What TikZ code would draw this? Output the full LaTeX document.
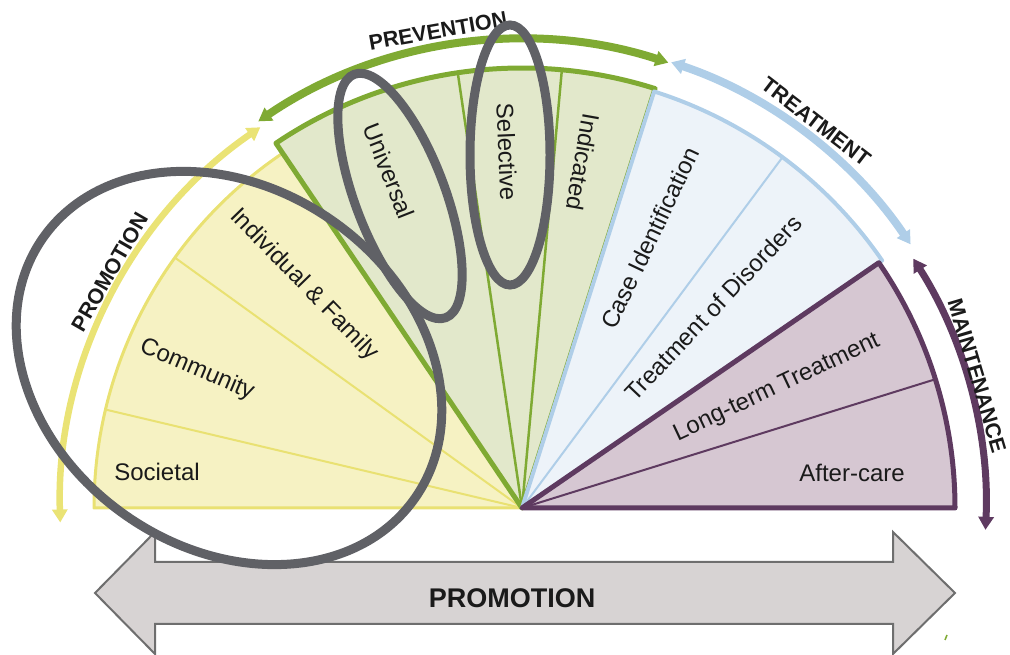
\documentclass[tikz,border=0pt]{standalone}
\usepackage{fontspec}
\setmainfont{Liberation Sans}
\usetikzlibrary{arrows.meta}
\definecolor{yfill}{HTML}{F6F2C3}
\definecolor{yline}{HTML}{E9E172}
\definecolor{yarc}{HTML}{EAE375}
\definecolor{gfill}{HTML}{E2E8CB}
\definecolor{gline}{HTML}{7FAA33}
\definecolor{bfill}{HTML}{EDF3F9}
\definecolor{bline}{HTML}{AFCEE8}
\definecolor{pfill}{HTML}{D6C7D2}
\definecolor{pline}{HTML}{5E3A60}
\definecolor{ring}{HTML}{606166}
\definecolor{afill}{HTML}{D7D3D3}
\definecolor{aline}{HTML}{6E6E6E}
\definecolor{txt}{HTML}{1A1A1A}
\begin{document}
\begin{tikzpicture}[x=1pt,y=1pt,
  lbl/.style={font=\fontsize{24}{26}\selectfont, text=txt, inner sep=0pt},
  arclbl/.style={font=\fontsize{21.5}{24}\selectfont\bfseries, text=txt, inner sep=0pt},
  ringst/.style={draw=ring, line width=9pt},
  arcarrow/.style={line width=#1, {Triangle[width=15pt,length=13pt]}-{Triangle[width=15pt,length=13pt]}}
]
\useasboundingbox (0,0) rectangle (1010,655);
\coordinate (C) at (522,147);

% yellow sector (promotion)
\draw[yline, line width=3pt, fill=yfill, line join=round] (C) -- ++(180:428) arc[start angle=180, end angle=124, radius=428] -- cycle;
\draw[yline, line width=2pt] (C) -- ++(166.7:428);
\draw[yline, line width=2pt] (C) -- ++(144.2:428);

% green sector (prevention)
\draw[gline, line width=5pt, fill=gfill, line join=round] (C) -- ++(124:440) arc[start angle=124, end angle=72.4, radius=440] -- cycle;
\draw[gline, line width=2.5pt] (C) -- ++(98.4:440);
\draw[gline, line width=2.5pt] (C) -- ++(84.8:440);

% blue sector (treatment)
\draw[bline, line width=4pt, fill=bfill, line join=round] (C) -- ++(72.4:437) arc[start angle=72.4, end angle=34.5, radius=437] -- cycle;
\draw[bline, line width=2pt] (C) -- ++(53.4:437);

% purple sector (maintenance)
\draw[pline, line width=5pt, fill=pfill, line join=round] (C) -- ++(34.5:433) arc[start angle=34.5, end angle=0, radius=433] -- cycle;
\draw[pline, line width=2pt] (C) -- ++(17.3:433);

% outer arc arrows
\draw[yarc, arcarrow=6.5pt] ([shift={(124.5:462)}]C) arc[start angle=124.5, end angle=181.8, radius=462];
\draw[gline, arcarrow=8pt] ([shift={(124.3:468)}]C) arc[start angle=124.3, end angle=72, radius=470];
\draw[bline, arcarrow=8pt] ([shift={(71.5:470)}]C) arc[start angle=71.5, end angle=34, radius=468];
\draw[pline, arcarrow=7pt] ([shift={(32.5:464)}]C) arc[start angle=32.5, end angle=-2.7, radius=464];

% sector labels
\node[lbl] (soc) at (157,183) {Societal};
\node[lbl, rotate=-23] (com) at (197,285) {Community};
\node[lbl, rotate=-45.8] (ind) at (304,370) {Individual \& Family};
\node[lbl, rotate=-68.5] (uni) at (389,484) {Universal};
\node[lbl, rotate=-87.6] (sel) at (507,503) {Selective};
\node[lbl, rotate=-100] (indic) at (583,493) {Indicated};
\node[lbl, rotate=64.6] (case) at (650,417) {Case Identification};
\node[lbl, rotate=46.5] (tod) at (713,347) {Treatment of Disorders};
\node[lbl, rotate=25.2] (ltt) at (777,267) {Long-term Treatment};
\node[lbl] (aft) at (852,182) {After-care};

% arc labels
\node[arclbl, rotate=10] (prev) at (438,624) {PREVENTION};
\node[arclbl, rotate=-37.5] (treat) at (816,533) {TREATMENT};
\node[arclbl, rotate=-73.5] (maint) at (977,279) {MAINTENANCE};
\node[arclbl, rotate=60] (promo) at (110,383) {PROMOTION};

% bottom double arrow
\draw[aline, line width=2pt, fill=afill, line join=miter]
  (95,62) -- (155,123) -- (155,93) -- (893,93) -- (893,123) -- (955,62)
  -- (893,1) -- (893,31) -- (155,31) -- (155,1) -- cycle;
\node[font=\fontsize{27}{29}\selectfont\bfseries, text=txt, inner sep=0pt] (pbot) at (512,57) {PROMOTION};

% grey rings
\draw[ringst, shift={(229,287)}, rotate=-34.9] (0,0) ellipse[x radius=227, y radius=180];
\draw[ringst, shift={(400,459)}, rotate=-69.4] (0,0) ellipse[x radius=130, y radius=45];
\draw[ringst] (510,500) ellipse[x radius=40, y radius=130];

% small mark
\draw[gline, line width=1.5pt] (945,15) -- (947,20);
\end{tikzpicture}
\end{document}
